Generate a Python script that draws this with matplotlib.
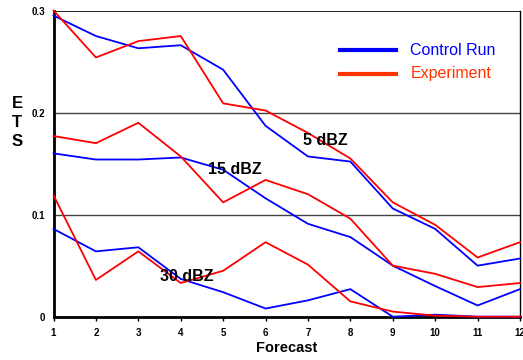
import matplotlib
matplotlib.use("Agg")
import matplotlib.pyplot as plt
import numpy as np

plt.rcParams['font.family'] = ['Liberation Sans', 'DejaVu Sans']

forecast = np.arange(1, 13)

# ETS per forecast hour, three reflectivity thresholds
ctrl_5 = [0.295, 0.275, 0.263, 0.266, 0.242, 0.187, 0.157, 0.152, 0.106, 0.086, 0.050, 0.057]
expt_5 = [0.300, 0.254, 0.270, 0.275, 0.209, 0.202, 0.180, 0.155, 0.112, 0.090, 0.058, 0.073]
ctrl_15 = [0.160, 0.154, 0.154, 0.156, 0.144, 0.116, 0.091, 0.078, 0.050, 0.030, 0.011, 0.027]
expt_15 = [0.177, 0.170, 0.190, 0.157, 0.112, 0.134, 0.120, 0.096, 0.050, 0.042, 0.029, 0.033]
ctrl_30 = [0.086, 0.064, 0.068, 0.037, 0.024, 0.008, 0.016, 0.027, 0.000, 0.002, 0.000, 0.000]
expt_30 = [0.119, 0.036, 0.064, 0.033, 0.045, 0.073, 0.051, 0.015, 0.005, 0.001, 0.000, 0.000]

thresh_labels = ['5 dBZ', '15 dBZ', '30 dBZ']
label_pos = [(6.88, 0.173), (4.64, 0.144), (3.51, 0.039)]

blue = '#0000FF'
red = '#FF0000'

fig = plt.figure(figsize=(5.23, 3.60), dpi=100)
ax = fig.add_axes([0.1023, 0.1203, 0.892, 0.8505])

for y in (0.1, 0.2):
    ax.axhline(y, color='#444444', lw=1.0, zorder=1)
ax.axhline(0.3, color='black', lw=1.2, zorder=1)

for c, e in ((ctrl_5, expt_5), (ctrl_15, expt_15), (ctrl_30, expt_30)):
    ax.plot(forecast, c, color=blue, lw=1.3, zorder=3, clip_on=False)
    ax.plot(forecast, e, color=red, lw=1.3, zorder=3, clip_on=False)

for txt, (x, y) in zip(thresh_labels, label_pos):
    ax.text(x, y, txt, fontsize=11.5, fontweight='bold', ha='left', va='center', zorder=4)

ax.set_xlim(1, 12)
ax.set_ylim(0, 0.3)
ax.set_xticks(forecast)
ax.set_xticklabels([str(v) for v in forecast], fontsize=7, fontweight='bold')
ax.set_yticks([0, 0.1, 0.2, 0.3])
ax.set_yticklabels(['0', '0.1', '0.2', '0.3'], fontsize=7, fontweight='bold')
ax.tick_params(axis='x', length=3, width=1, pad=5)
ax.tick_params(axis='y', length=0, pad=6)

ax.spines['left'].set_linewidth(2.0)
ax.spines['bottom'].set_linewidth(2.0)
ax.spines['right'].set_linewidth(1.0)
ax.spines['top'].set_visible(False)

ax.set_xlabel('Forecast', fontsize=10.5, fontweight='bold', labelpad=2)
fig.text(0.033, 0.66, 'E\nT\nS', fontsize=12, fontweight='bold', ha='center', va='center',
         linespacing=1.35)

# legend drawn by hand in axes fraction
ax.plot([0.615, 0.735], [0.871, 0.871], transform=ax.transAxes, color=blue, lw=3, clip_on=False)
ax.plot([0.615, 0.735], [0.793, 0.793], transform=ax.transAxes, color='#FF3300', lw=3, clip_on=False)
ax.text(0.765, 0.871, 'Control Run', transform=ax.transAxes, color=blue, fontsize=11.5, va='center')
ax.text(0.765, 0.793, 'Experiment', transform=ax.transAxes, color='#FF3300', fontsize=11.5, va='center')

fig.savefig('out.png', dpi=100)
